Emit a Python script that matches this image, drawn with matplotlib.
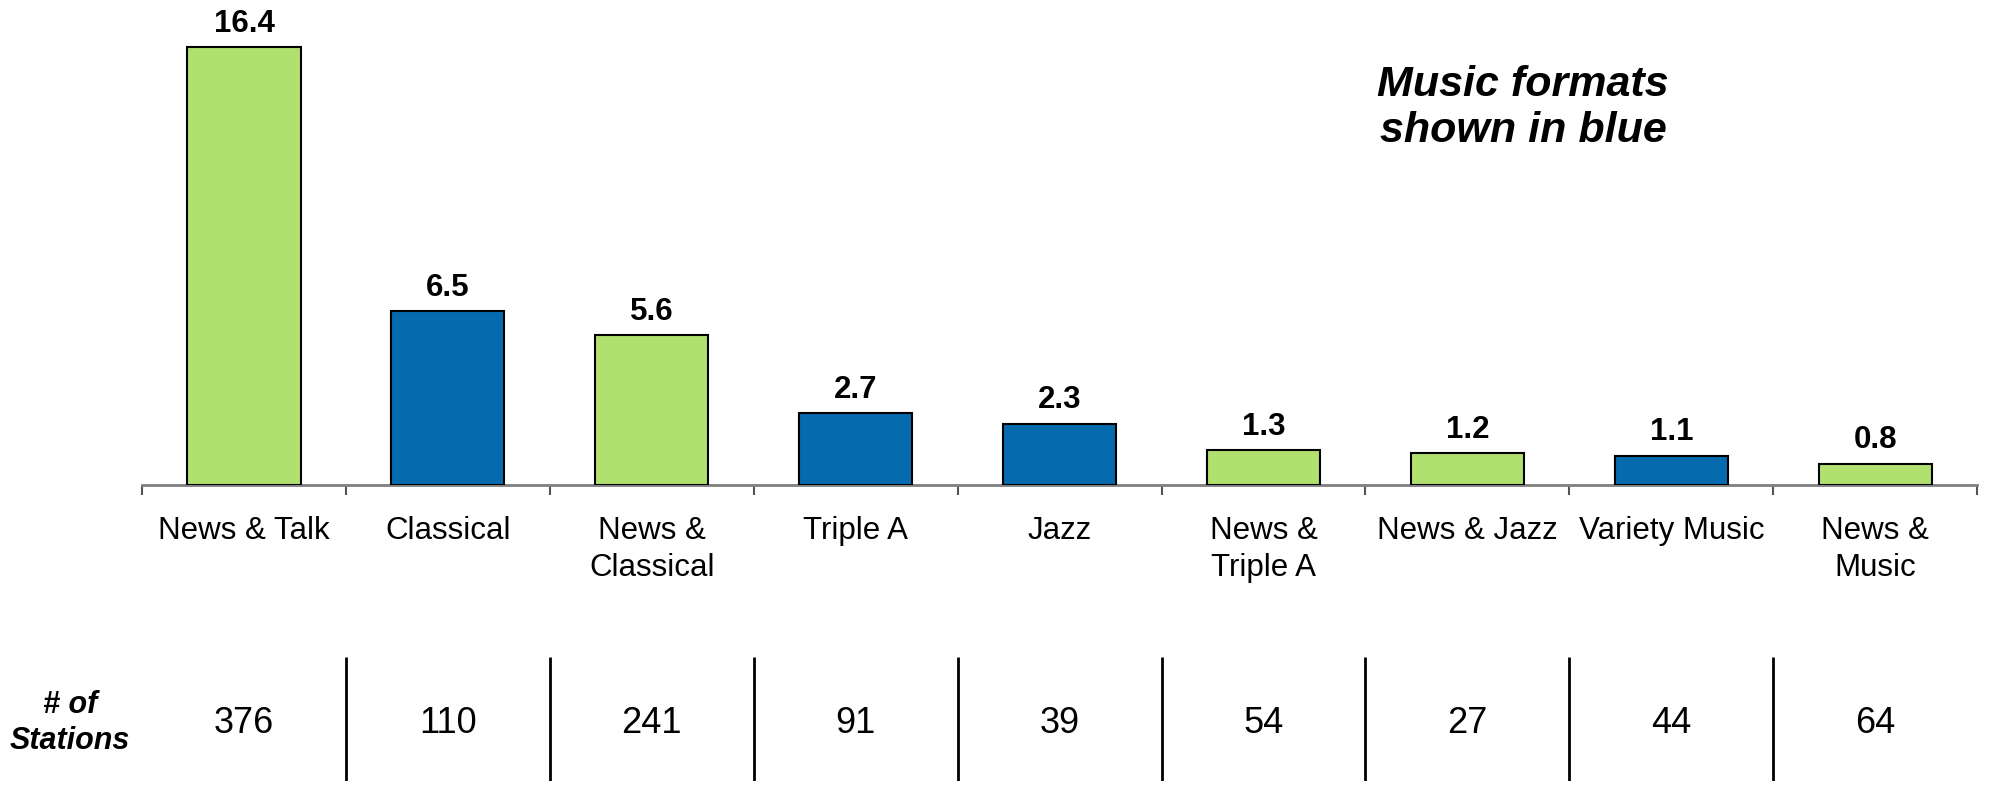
import numpy as np
import matplotlib.pyplot as plt

plt.rcParams['font.family'] = ['Liberation Sans', 'DejaVu Sans']

categories = ['News & Talk', 'Classical', 'News &\nClassical', 'Triple A', 'Jazz',
              'News &\nTriple A', 'News & Jazz', 'Variety Music', 'News &\nMusic']
values = [16.4, 6.5, 5.6, 2.7, 2.3, 1.3, 1.2, 1.1, 0.8]
is_music = [False, True, False, True, True, False, False, True, False]
stations = [376, 110, 241, 91, 39, 54, 27, 44, 64]

GREEN = '#B0E06E'
BLUE = '#066AAF'

fig = plt.figure(figsize=(19.97, 7.87), dpi=100)
ax = fig.add_axes([0.0711, 0.3837, 0.919, 0.611])

x = np.arange(len(categories))
colors = [BLUE if m else GREEN for m in is_music]
bars = ax.bar(x, values, width=0.555, color=colors, edgecolor='black', linewidth=1.5, zorder=3)

for xi, v in zip(x, values):
    ax.annotate(f'{v:.1f}', (xi, v), xytext=(0, 6), textcoords='offset points',
                ha='center', va='bottom', fontsize=22.5, fontweight='bold')

ax.set_xlim(-0.5, len(categories) - 0.5)
ax.set_ylim(0, 18)
for s in ['top', 'right', 'left']:
    ax.spines[s].set_visible(False)
ax.spines['bottom'].set_color('#7f7f7f')
ax.spines['bottom'].set_linewidth(2)
ax.set_yticks([])

ax.set_xticks(np.arange(-0.5, len(categories)), labels=[])
ax.set_xticks(x, labels=categories, minor=True)
ax.tick_params(axis='x', which='major', direction='out', length=7, width=1.5, color='#555555')
ax.tick_params(axis='x', which='minor', length=0, pad=22, labelsize=22.5)
for lbl in ax.get_xticklabels(minor=True):
    lbl.set_linespacing(1.33)

ax.text(0.7526, 0.784, 'Music formats\nshown in blue', transform=ax.transAxes,
        ha='center', va='center', fontsize=31, fontweight='bold', style='italic',
        linespacing=1.2)

# station counts row
ax2 = fig.add_axes([0.0711, 0.0076, 0.919, 0.1576])
ax2.set_xlim(-0.5, len(categories) - 0.5)
ax2.set_ylim(0, 1)
ax2.axis('off')
ax2.vlines(np.arange(0.5, len(categories) - 1), 0, 1, color='black', linewidth=2)
for xi, n in zip(x, stations):
    ax2.text(xi, 0.46, str(n), ha='center', va='center', fontsize=26)
ax2.text(-0.853, 0.47, '# of\nStations', ha='center', va='center', fontsize=22,
         fontweight='bold', style='italic', clip_on=False, linespacing=1.28)

fig.savefig('out.png', dpi=100)
